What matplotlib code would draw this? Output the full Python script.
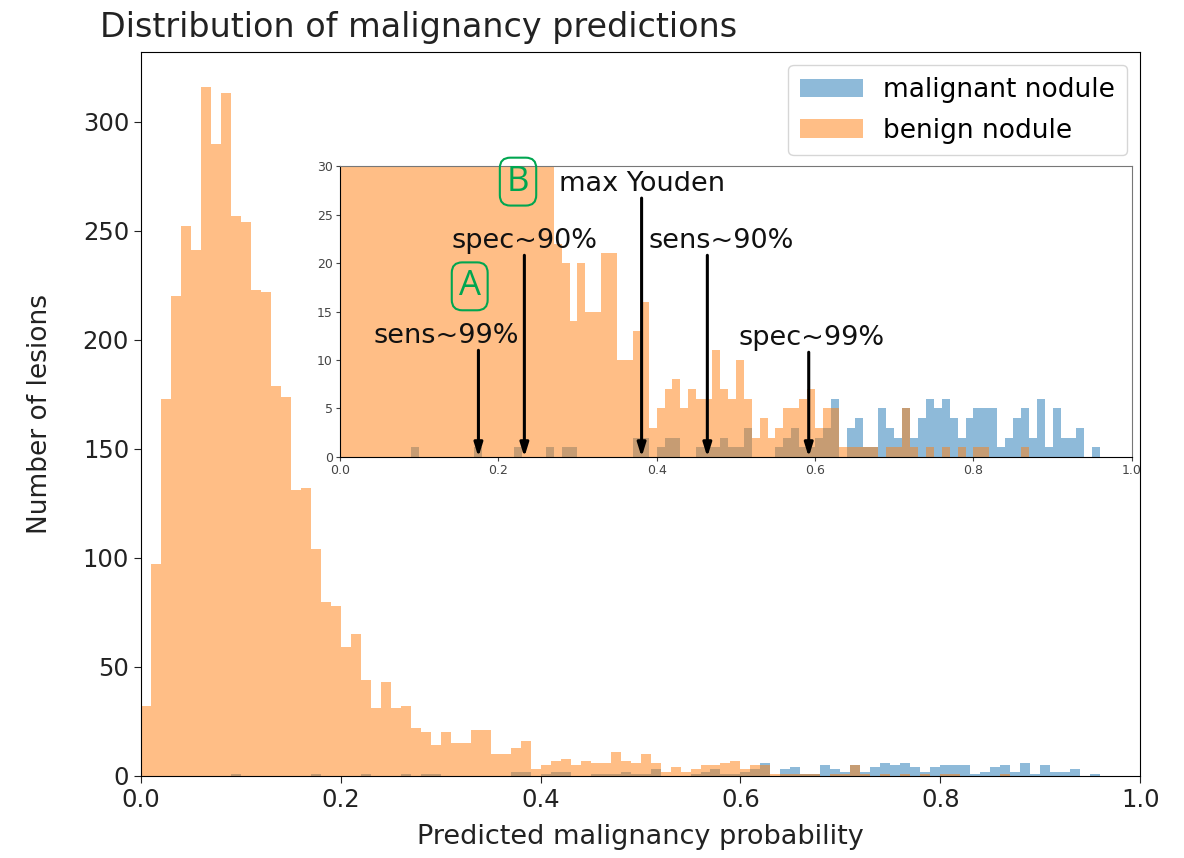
import numpy as np
import matplotlib
matplotlib.use("Agg")
import matplotlib.pyplot as plt

# histogram counts, 100 bins of width 0.01 on [0, 1]
bin_edges = np.linspace(0.0, 1.0, 101)

benign_counts = [
    32, 97, 173, 220, 252, 241, 316, 290, 313, 257,
    254, 223, 222, 179, 174, 131, 132, 104, 80, 78,
    59, 65, 44, 31, 43, 31, 32, 22, 20, 14,
    20, 15, 15, 21, 21, 10, 10, 13, 16, 3,
    5, 7, 8, 5, 7, 6, 6, 11, 7, 6,
    10, 6, 2, 4, 2, 3, 5, 5, 6, 7,
    3, 5, 5, 1, 1, 1, 1, 1, 0, 1,
    1, 5, 1, 0, 1, 0, 1, 0, 1, 0,
    1, 1, 0, 0, 0, 0, 1, 0, 0, 0,
    0, 0, 0, 0, 0, 0, 0, 0, 0, 0,
]

malignant_counts = [
    0, 0, 0, 0, 0, 0, 0, 0, 0, 1,
    0, 0, 0, 0, 0, 0, 0, 1, 0, 0,
    0, 0, 1, 0, 0, 0, 1, 0, 1, 1,
    0, 0, 0, 0, 0, 0, 0, 2, 2, 0,
    1, 2, 2, 0, 0, 1, 1, 1, 2, 1,
    1, 3, 0, 0, 0, 1, 2, 3, 1, 1,
    2, 3, 6, 0, 3, 4, 1, 1, 5, 3,
    2, 5, 2, 4, 6, 5, 6, 4, 2, 4,
    5, 5, 5, 1, 2, 4, 5, 2, 6, 1,
    5, 2, 2, 3, 0, 1, 0, 0, 0, 0,
]

# thresholds marked in the inset: label, position, arrow tail height
thr_labels = ["sens~99%", "spec~90%", "max Youden", "sens~90%", "spec~99%"]
thr_values = [0.175, 0.233, 0.381, 0.464, 0.592]
thr_tails = [11.0, 20.8, 26.7, 20.8, 10.8]
thr_text_x = [0.135, 0.233, 0.381, 0.482, 0.595]

blue = "#1f77b4"
orange = "#ff7f0e"
centers = bin_edges[:-1] + 0.005

fig = plt.figure(figsize=(11.84, 8.58), dpi=100)
ax = fig.add_axes([0.119, 0.0956, 0.844, 0.8438])

ax.hist(centers, bins=bin_edges, weights=malignant_counts, histtype="stepfilled",
        color=blue, alpha=0.5, linewidth=0, label="malignant nodule")
ax.hist(centers, bins=bin_edges, weights=benign_counts, histtype="stepfilled",
        color=orange, alpha=0.5, linewidth=0, label="benign nodule")
ax.set_xlim(0, 1)
ax.set_ylim(0, 332)
ax.set_xticks(np.arange(0, 1.01, 0.2))
ax.set_yticks(np.arange(0, 301, 50))
ax.tick_params(labelsize=17.5, length=5, colors="#222222")
ax.set_xlabel("Predicted malignancy probability", fontsize=19.5, color="#222222", labelpad=9)
ax.set_ylabel("Number of lesions", fontsize=19, color="#222222")
ax.yaxis.set_label_coords(-0.088, 0.5)
ax.legend(loc="upper right", fontsize=19, handlelength=2.4, borderpad=0.45,
          labelspacing=0.55, handletextpad=0.75, borderaxespad=0.5)

fig.text(100 / 1184, 1 - 37 / 858, "Distribution of malignancy predictions",
         fontsize=24, color="#222222", va="baseline", ha="left")

# zoomed inset
axin = fig.add_axes([0.287, 0.4674, 0.669, 0.339])
axin.hist(centers, bins=bin_edges, weights=malignant_counts, histtype="stepfilled",
          color=blue, alpha=0.5, linewidth=0)
axin.hist(centers, bins=bin_edges, weights=benign_counts, histtype="stepfilled",
          color=orange, alpha=0.5, linewidth=0)
axin.set_xlim(0, 1)
axin.set_ylim(0, 30)
axin.set_xticks(np.arange(0, 1.01, 0.2))
axin.set_yticks(np.arange(0, 31, 5))
axin.tick_params(labelsize=9, length=3, colors="#444444", pad=2)
for side in ["top", "right"]:
    axin.spines[side].set_color("#777777")

for lab, xv, tail, tx in zip(thr_labels, thr_values, thr_tails, thr_text_x):
    axin.annotate("", xy=(xv, 0), xytext=(xv, tail),
                  arrowprops=dict(arrowstyle="-|>,head_width=0.25,head_length=0.8",
                                  color="black", lw=2.2, shrinkA=0, shrinkB=0))
    axin.text(tx, tail + 0.1, lab, ha="center", va="bottom", fontsize=19.5, color="#111111")

green = "#00a650"
for letter, lx, ly in [("A", 0.164, 17.6), ("B", 0.225, 28.4)]:
    axin.text(lx, ly, letter, ha="center", va="center", fontsize=25, color=green,
              family="Open Sans", clip_on=False,
              bbox=dict(boxstyle="round,pad=0.2,rounding_size=0.3", fc="none",
                        ec=green, lw=1.5))

fig.savefig("out.png", dpi=100)
